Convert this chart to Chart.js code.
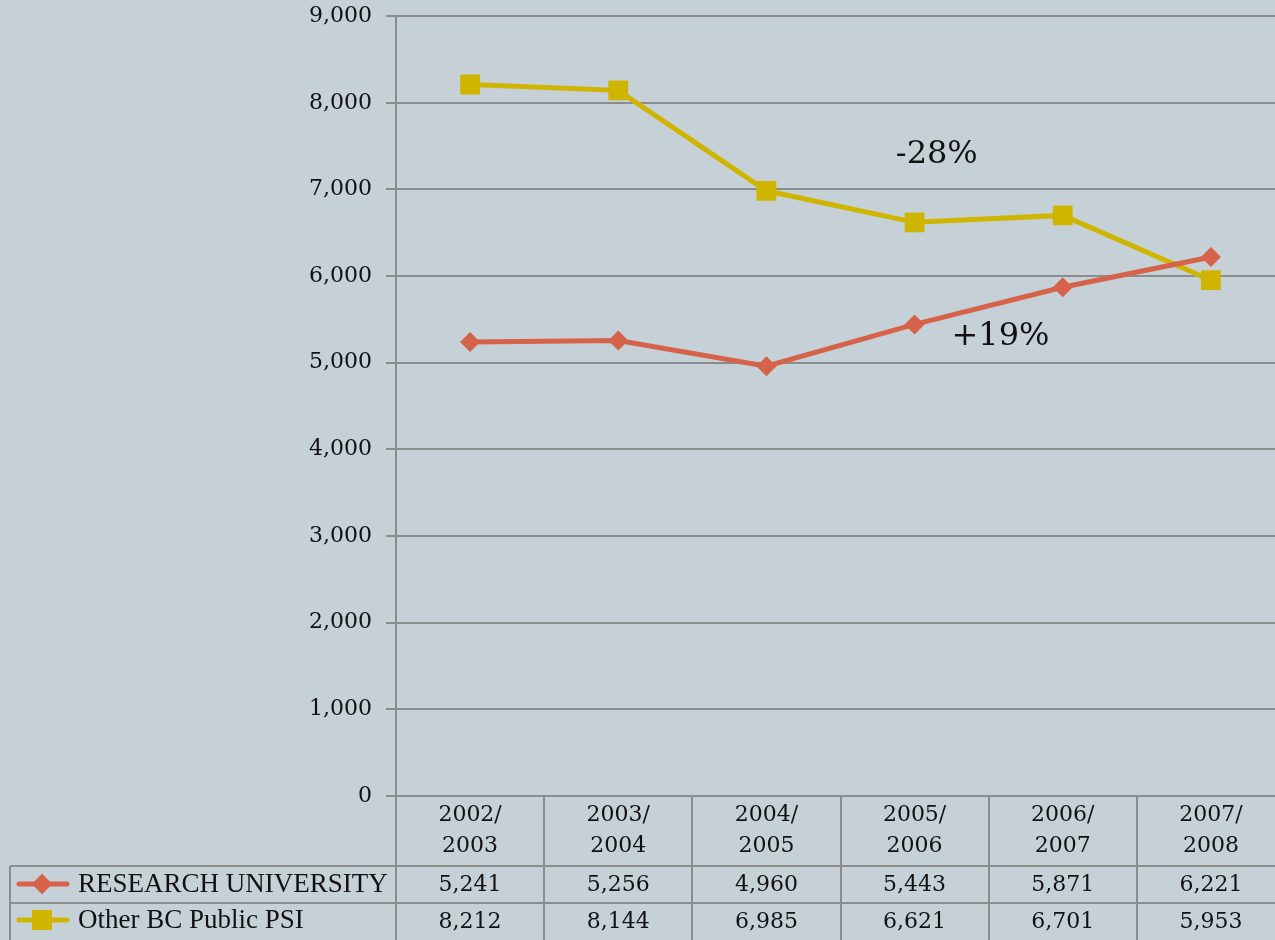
<!DOCTYPE html>
<html>
<head>
<meta charset="UTF-8">
<script src="https://cdn.jsdelivr.net/npm/chart.js@4.4.1/dist/chart.umd.min.js"></script>
<style>
  html, body { margin: 0; padding: 0; background: #c5d1d7; overflow: hidden; }
  canvas { display: block; margin-top: -11px; }
</style>
</head>
<body>
<canvas id="c" width="1299" height="951"></canvas>
<script>
// data
const years = [['2002/', '2003'], ['2003/', '2004'], ['2004/', '2005'], ['2005/', '2006'], ['2006/', '2007'], ['2007/', '2008']]
const researchUni = [5241, 5256, 4960, 5443, 5871, 6221]
const otherPsi = [8212, 8144, 6985, 6621, 6701, 5953]
const seriesNames = ['RESEARCH UNIVERSITY', 'Other BC Public PSI']
const notes = [
  { text: '-28%', x: 3.15, y: 7400 },
  { text: '+19%', x: 3.58, y: 5300 },
]

const BG = '#c5d1d7'
const GRID = '#8c8c8c'
const RED = '#d6624a'
const YEL = '#cfb500'
const NUM_FONT = '"DejaVu Serif", serif'
const TXT_FONT = '"Liberation Serif", serif'

const fmt = v => v.toLocaleString('en-US')

const tablePlugin = {
  id: 'table',
  beforeDraw(chart) {
    const ctx = chart.ctx
    ctx.save()
    ctx.fillStyle = BG
    ctx.fillRect(0, 0, chart.width, chart.height)
    ctx.restore()
  },
  afterDraw(chart) {
    const ctx = chart.ctx
    const a = chart.chartArea
    const xs = chart.scales.x
    const ys = chart.scales.y
    const colW = a.width / years.length
    const top = a.bottom, r1 = top + 70, r2 = r1 + 37, bot = chart.height
    ctx.save()
    ctx.strokeStyle = GRID
    ctx.lineWidth = 2
    ctx.beginPath()
    // column dividers
    for (let i = 0; i <= years.length; i++) {
      const x = Math.round(a.left + i * colW)
      ctx.moveTo(x, top); ctx.lineTo(x, bot)
    }
    // row lines
    ctx.moveTo(10, r1); ctx.lineTo(a.right, r1)
    ctx.moveTo(10, r2); ctx.lineTo(a.right, r2)
    ctx.moveTo(10, r1); ctx.lineTo(10, bot)
    ctx.stroke()

    ctx.fillStyle = '#111'
    ctx.textAlign = 'center'
    ctx.textBaseline = 'middle'
    ctx.font = '22px ' + NUM_FONT
    years.forEach((lab, i) => {
      const cx = xs.getPixelForValue(i)
      ctx.fillText(lab[0], cx, top + 19)
      ctx.fillText(lab[1], cx, top + 50)
      ctx.fillText(fmt(researchUni[i]), cx, r1 + 19)
      ctx.fillText(fmt(otherPsi[i]), cx, r2 + 19)
    })

    // legend keys
    const keys = [[RED, 'rectRot', 10, r1 + 18], [YEL, 'rect', 14, r2 + 17]]
    keys.forEach(([col, shape, rad, y], k) => {
      ctx.strokeStyle = col
      ctx.fillStyle = col
      ctx.lineWidth = 5
      ctx.lineCap = 'round'
      ctx.beginPath(); ctx.moveTo(19, y); ctx.lineTo(67, y); ctx.stroke()
      Chart.helpers.drawPoint(ctx, { pointStyle: shape, radius: rad, borderWidth: 0 }, 42, y)
      ctx.fill()
      ctx.fillStyle = '#111'
      ctx.textAlign = 'left'
      ctx.font = '27px ' + TXT_FONT
      ctx.fillText(seriesNames[k], 78, y + 1)
    })

    // change annotations
    ctx.fillStyle = '#111'
    ctx.textAlign = 'center'
    ctx.font = '32px ' + NUM_FONT
    notes.forEach(n => ctx.fillText(n.text, xs.getPixelForValue(n.x), ys.getPixelForValue(n.y)))
    ctx.restore()
  }
}

new Chart(document.getElementById('c'), {
  type: 'line',
  data: {
    labels: years.map(y => y.join('')),
    datasets: [
      {
        label: seriesNames[0], data: researchUni,
        borderColor: RED, backgroundColor: RED, borderWidth: 5,
        pointStyle: 'rectRot', pointRadius: 10, pointBorderWidth: 0, tension: 0
      },
      {
        label: seriesNames[1], data: otherPsi,
        borderColor: YEL, backgroundColor: YEL, borderWidth: 5,
        pointStyle: 'rect', pointRadius: 14, pointBorderWidth: 0, tension: 0
      }
    ]
  },
  options: {
    responsive: false,
    animation: false,
    layout: { padding: { left: 0, top: 0, right: 0, bottom: 144 } },
    plugins: { legend: { display: false }, tooltip: { enabled: false } },
    scales: {
      x: { type: 'category', display: false, offset: true },
      y: {
        min: 0, max: 9000,
        afterFit: s => { s.width = 396 },
        border: { color: GRID, width: 2 },
        grid: { color: GRID, lineWidth: 2, tickLength: 10 },
        ticks: {
          stepSize: 1000, padding: 14, color: '#111',
          font: { family: NUM_FONT, size: 22 },
          callback: v => fmt(v)
        }
      }
    }
  },
  plugins: [tablePlugin]
})
</script>
</body>
</html>
